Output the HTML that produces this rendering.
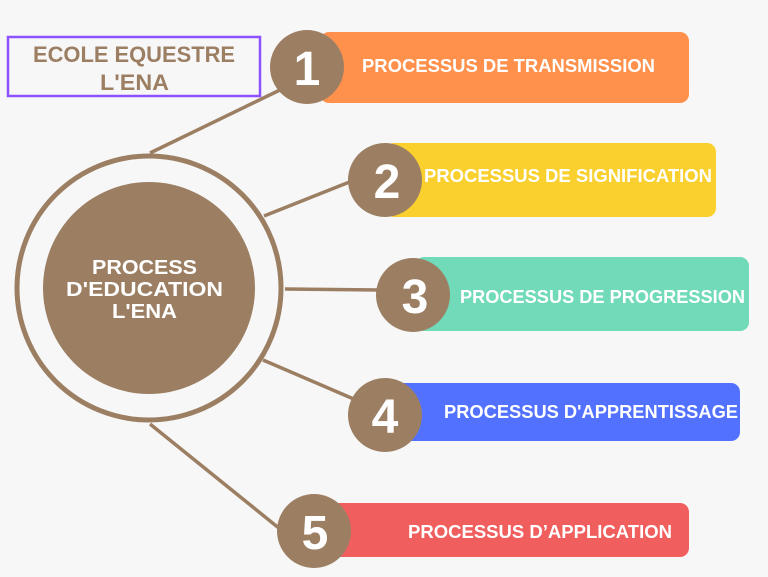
<!DOCTYPE html>
<html><head><style>
body{margin:0;width:768px;height:577px;background:#f7f7f7;overflow:hidden;font-family:"Liberation Sans",sans-serif}
</style></head><body>
<svg width="768" height="577" xmlns="http://www.w3.org/2000/svg" style="position:absolute;left:0;top:0">
<rect x="8" y="37" width="252" height="59" fill="none" stroke="#8C52FF" stroke-width="2.5"/>
<text x="33" y="62" textLength="202" lengthAdjust="spacingAndGlyphs" font-family="Liberation Sans" font-weight="bold" font-size="22" fill="#9C7F63">ECOLE EQUESTRE</text>
<text x="100" y="90" textLength="69" lengthAdjust="spacingAndGlyphs" font-family="Liberation Sans" font-weight="bold" font-size="22" fill="#9C7F63">L'ENA</text>
<g stroke="#9C7F63" stroke-width="3.5">
<line x1="150" y1="153" x2="282" y2="89"/>
<line x1="264" y1="216" x2="352" y2="181"/>
<line x1="285" y1="289" x2="380" y2="290"/>
<line x1="263" y1="360" x2="356" y2="400"/>
<line x1="150" y1="424" x2="280" y2="529"/>
</g>
<rect x="320" y="32" width="369" height="71" rx="9" fill="#FF914D"/>
<rect x="385" y="143" width="331" height="74" rx="9" fill="#F9D02E"/>
<rect x="415" y="257" width="334" height="74" rx="9" fill="#71DAB8"/>
<rect x="395" y="383" width="345" height="58" rx="9" fill="#5271FF"/>
<rect x="330" y="503" width="359" height="54" rx="9" fill="#F05E5E"/>
<circle cx="149" cy="288" r="132" fill="none" stroke="#9C7F63" stroke-width="5"/>
<circle cx="149" cy="288" r="106" fill="#9C7F63"/>
<g font-family="Liberation Sans" font-weight="bold" fill="#fff" font-size="20" lengthAdjust="spacingAndGlyphs">
<text x="92" y="274" textLength="105" lengthAdjust="spacingAndGlyphs">PROCESS</text>
<text x="66" y="296" textLength="157" lengthAdjust="spacingAndGlyphs">D'EDUCATION</text>
<text x="112" y="318" textLength="65" lengthAdjust="spacingAndGlyphs">L'ENA</text>
</g>
<g fill="#9C7F63">
<circle cx="307" cy="67" r="37"/>
<circle cx="385" cy="180" r="37"/>
<circle cx="413" cy="295" r="37"/>
<circle cx="385" cy="415" r="37"/>
<circle cx="314" cy="531" r="37"/>
</g>
<g font-family="Liberation Sans" font-weight="bold" fill="#fff" font-size="48" text-anchor="middle">
<text x="307" y="85">1</text>
<text x="387" y="198">2</text>
<text x="415" y="313">3</text>
<text x="385" y="433">4</text>
<text x="315" y="549">5</text>
</g>
<g font-family="Liberation Sans" font-weight="bold" fill="#fff" font-size="18">
<text x="362" y="72" textLength="293" lengthAdjust="spacingAndGlyphs">PROCESSUS DE TRANSMISSION</text>
<text x="424" y="182" textLength="288" lengthAdjust="spacingAndGlyphs">PROCESSUS DE SIGNIFICATION</text>
<text x="460" y="303" textLength="285" lengthAdjust="spacingAndGlyphs">PROCESSUS DE PROGRESSION</text>
<text x="444" y="418" textLength="294" lengthAdjust="spacingAndGlyphs">PROCESSUS D'APPRENTISSAGE</text>
<text x="408" y="538" textLength="264" lengthAdjust="spacingAndGlyphs">PROCESSUS D’APPLICATION</text>
</g>
</svg>
</body></html>
